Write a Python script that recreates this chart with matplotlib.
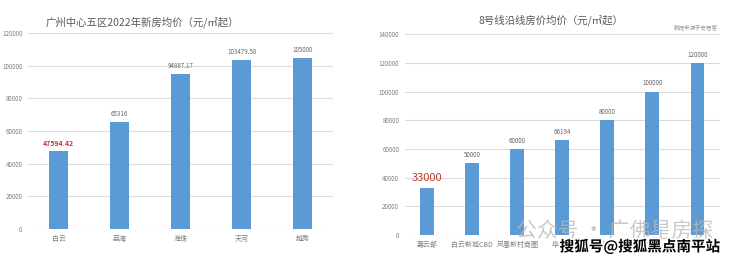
import matplotlib.pyplot as plt
import matplotlib.patheffects as pe

plt.rcParams['font.family'] = ['Noto Sans CJK SC', 'DejaVu Sans']

# 左图：广州中心五区
districts = ['白云', '荔湾', '海珠', '天河', '越秀']
district_prices = [47594.42, 65316, 94887.17, 103479.58, 105000]
district_labels = ['47594.42', '65316', '94887.17', '103479.58', '105000']
left_yticks = [0, 20000, 40000, 60000, 80000, 100000, 120000]

# 右图：8号线沿线
stations = ['嘉云部', '白云新城CBD', '凤凰新村商圈', '华林寺', '文化公园', '中大', '琶洲']
station_prices = [33000, 50000, 60000, 66194, 80000, 100000, 120000]
station_labels = ['33000', '50000', '60000', '66194', '80000', '100000', '120000']
right_yticks = [0, 20000, 40000, 60000, 80000, 100000, 120000, 140000]

bar_c = '#5B9BD5'
grid_c = '#dcdcdc'
tick_c = '#7f7f7f'

fig = plt.figure(figsize=(7.4, 2.64), dpi=100)
fig.patch.set_facecolor('white')


def style(ax, yticks):
    ax.set_ylim(0, yticks[-1])
    ax.set_yticks(yticks)
    ax.set_yticklabels([str(t) for t in yticks], fontsize=4.5, color=tick_c)
    ax.yaxis.grid(True, color=grid_c, lw=0.8)
    ax.set_axisbelow(True)
    for s in ax.spines.values():
        s.set_visible(False)
    ax.tick_params(length=0, pad=4)


ax1 = fig.add_axes([0.038, 0.1326, 0.412, 0.742])
ax1.bar(range(len(districts)), district_prices, width=0.3, color=bar_c)
ax1.set_xlim(-0.5, len(districts) - 0.5)
style(ax1, left_yticks)
ax1.set_xticks(range(len(districts)))
ax1.set_xticklabels(districts, fontsize=5, color=tick_c)
for i, (v, t) in enumerate(zip(district_prices, district_labels)):
    if i == 0:
        ax1.text(i, v + 2500, t, ha='center', va='bottom', fontsize=5,
                 color='#c0392b', fontweight='bold')
    else:
        ax1.text(i, v + 2500, t, ha='center', va='bottom', fontsize=4.5, color='#666666')
fig.text(0.193, 0.915, '广州中心五区2022年新房均价（元/㎡起）', ha='center', va='center',
         fontsize=7.5, color='#595959')

ax2 = fig.add_axes([0.547, 0.1098, 0.426, 0.761])
ax2.bar(range(len(stations)), station_prices, width=0.31, color=bar_c)
ax2.set_xlim(-0.5, len(stations) - 0.5)
style(ax2, right_yticks)
ax2.set_xticks(range(len(stations)))
ax2.set_xticklabels(stations, fontsize=5, color=tick_c)
for i, (v, t) in enumerate(zip(station_prices, station_labels)):
    if i == 0:
        ax2.text(i, v + 3500, t, ha='center', va='bottom', fontsize=8, color='#c0392b')
    else:
        ax2.text(i, v + 3000, t, ha='center', va='bottom', fontsize=4.5, color='#666666')
fig.text(0.744, 0.925, '8号线沿线房价均价（元/㎡起）', ha='center', va='center',
         fontsize=7.5, color='#595959')
fig.text(0.940, 0.895, '数据来源于安居客', ha='center', va='center', fontsize=4, color='#999999')

# 水印
fig.text(0.830, 0.125, '公众号 · 广佛星房探', ha='center', va='center', fontsize=15,
         color='#b8b8b8', alpha=0.75)
fig.text(0.865, 0.065, '搜狐号@搜狐黑点南平站', ha='center', va='center', fontsize=10.5,
         color='black', fontweight='bold',
         path_effects=[pe.withStroke(linewidth=2.5, foreground='white')])

fig.savefig('out.png', dpi=100, facecolor='white')
